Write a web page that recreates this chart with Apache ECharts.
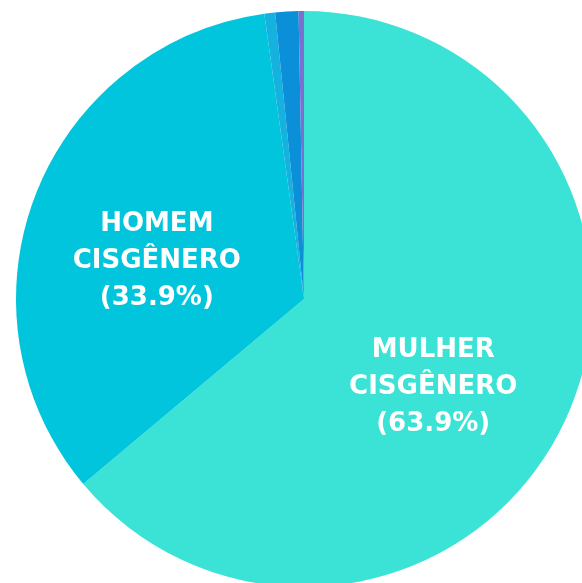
<!DOCTYPE html>
<html>
<head>
<meta charset="utf-8">
<script src="https://cdn.jsdelivr.net/npm/echarts@6/dist/echarts.min.js"></script>
<style>
html, body { margin: 0; padding: 0; background: #fff; }
#main { width: 582px; height: 583px; }
</style>
</head>
<body>
<div id="main"></div>
<script>
// categorias e valores (%)
var categorias = ['MULHER\nCISGÊNERO', 'HOMEM\nCISGÊNERO', 'OUTROS A', 'OUTROS B', 'OUTROS C'];
var valores = [63.9, 33.9, 0.6, 1.3, 0.3];
var cores = ['#3ae3d5', '#00c5dc', '#16b2df', '#0b8fd8', '#7b70cf'];
var mostrarRotulo = [true, true, false, false, false];

var myChart = echarts.init(document.getElementById('main'));
var dados = [];
for (var i = 0; i < valores.length; i++) {
	dados.push({
		name: categorias[i],
		value: valores[i],
		itemStyle: { color: cores[i] },
		label: { show: mostrarRotulo[i] }
	});
}
var option = {
	animation: false,
	series: [{
		type: 'pie',
		center: [304, 299],
		radius: 288,
		startAngle: 90,
		clockwise: true,
		silent: true,
		label: {
			position: 'inside',
			color: '#fff',
			fontFamily: 'DejaVu Sans',
			fontWeight: 'bold',
			fontSize: 26,
			lineHeight: 37,
			align: 'center',
			formatter: function (p) {
				return p.name + '\n(' + p.value.toFixed(1) + '%)';
			}
		},
		labelLine: { show: false },
		labelLayout: function (p) {
			if (p.dataIndex === 0) return { dx: -4, dy: 26 };
			if (p.dataIndex === 1) return { dx: -10, dy: 15 };
			return {};
		},
		itemStyle: { borderWidth: 0 },
		data: dados
	}]
};
myChart.setOption(option);
</script>
</body>
</html>
